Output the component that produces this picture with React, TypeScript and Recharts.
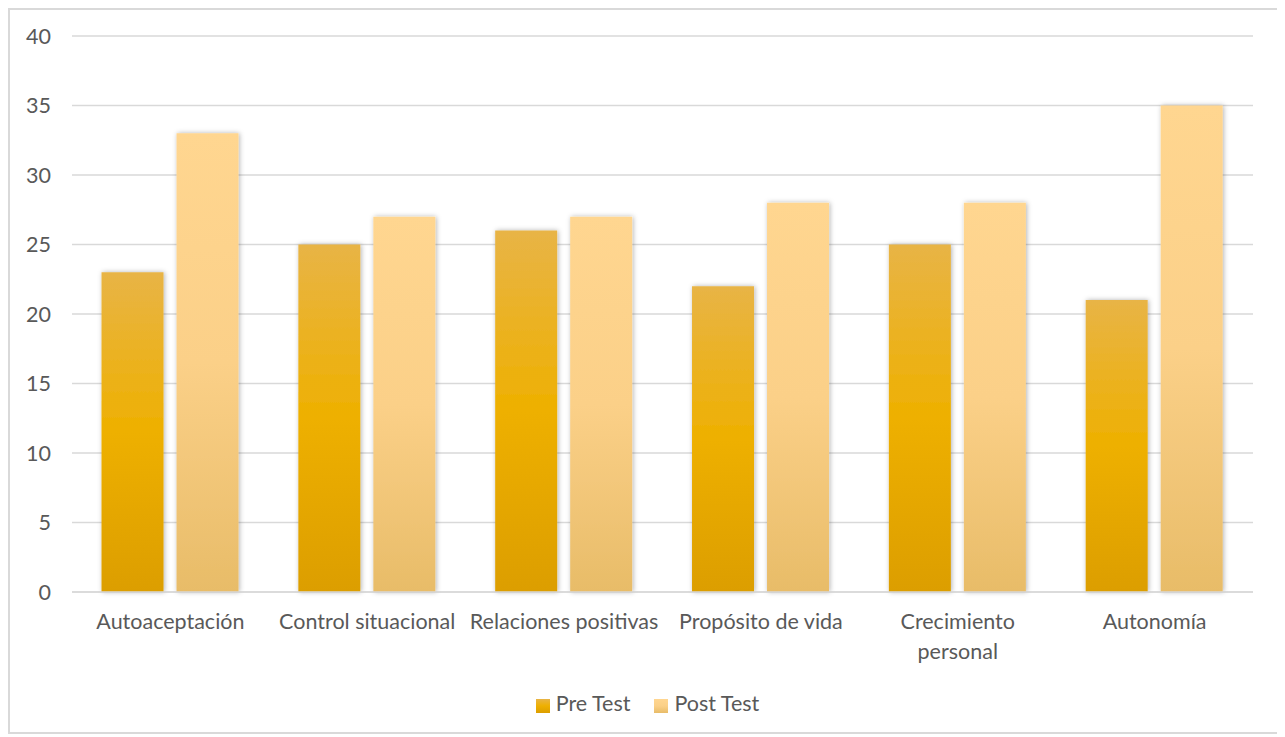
import React from "react";
import { BarChart, Bar, XAxis, YAxis, CartesianGrid, Legend } from "recharts";

const categories = [
  "Autoaceptación",
  "Control situacional",
  "Relaciones positivas",
  "Propósito de vida",
  "Crecimiento personal",
  "Autonomía",
];
const categoryLines: string[][] = [
  ["Autoaceptación"],
  ["Control situacional"],
  ["Relaciones positivas"],
  ["Propósito de vida"],
  ["Crecimiento", "personal"],
  ["Autonomía"],
];
const preTest = [23, 25, 26, 22, 25, 21];
const postTest = [33, 27, 27, 28, 28, 35];
const yTicks = [0, 5, 10, 15, 20, 25, 30, 35, 40];
const seriesOrder = ["Pre Test", "Post Test"];

const data = categories.map((c, i) => ({
  name: c,
  pre: preTest[i],
  post: postTest[i],
}));

const FONT = "Lato, 'Open Sans', sans-serif";
const TXT = "#595959";
const FS = 21.5;

const XTick = (props: any) => {
  const { x, y, payload } = props;
  const idx = categories.indexOf(payload.value);
  const lines = idx >= 0 ? categoryLines[idx] : [payload.value];
  return (
    <g transform={`translate(${x},${y})`}>
      {lines.map((l, i) => (
        <text
          key={i}
          x={0}
          y={i * 30}
          dy="0.71em"
          textAnchor="middle"
          fill={TXT}
          fontSize={FS}
          fontFamily={FONT}
        >
          {l}
        </text>
      ))}
    </g>
  );
};

export default function App() {
  return (
    <div
      style={{
        width: 1267,
        height: 722,
        border: "2px solid #d9d9d9",
        background: "#fff",
      }}
    >
      <BarChart
        width={1267}
        height={722}
        data={data}
        margin={{ top: 26, right: 24, left: 0, bottom: 16 }}
        barCategoryGap="15%"
        barGap={13}
      >
        <defs>
          <linearGradient id="gPre" x1="0" y1="0" x2="0" y2="1">
            <stop offset="0%" stopColor="#E8B446" />
            <stop offset="50%" stopColor="#EEB000" />
            <stop offset="100%" stopColor="#DC9E00" />
          </linearGradient>
          <linearGradient id="gPost" x1="0" y1="0" x2="0" y2="1">
            <stop offset="0%" stopColor="#FFD690" />
            <stop offset="50%" stopColor="#FBD088" />
            <stop offset="100%" stopColor="#E8BC68" />
          </linearGradient>
          <filter id="shadow" x="-20%" y="-10%" width="140%" height="120%">
            <feDropShadow dx="1" dy="0" stdDeviation="2.5" floodColor="#000" floodOpacity="0.3" />
          </filter>
        </defs>
        <CartesianGrid vertical={false} stroke="#d9d9d9" strokeWidth={1.5} />
        <XAxis
          dataKey="name"
          axisLine={{ stroke: "#d9d9d9", strokeWidth: 1.5 }}
          tickLine={false}
          interval={0}
          height={98}
          tick={<XTick />}
          tickMargin={16}
        />
        <YAxis
          domain={[0, 40]}
          ticks={yTicks}
          axisLine={false}
          tickLine={false}
          width={62}
          tickMargin={15}
          tick={{ fill: TXT, fontSize: FS, fontFamily: FONT }}
        />
        <Legend
          verticalAlign="bottom"
          iconType="square"
          iconSize={14}
          itemSorter={(item: any) => seriesOrder.indexOf(item.value)}
          wrapperStyle={{ fontFamily: FONT, fontSize: FS, paddingLeft: 21 }}
          formatter={(v: string) => (
            <span
              style={{
                color: TXT,
                marginLeft: 2,
                marginRight: v === seriesOrder[0] ? 14 : 0,
              }}
            >
              {v}
            </span>
          )}
        />
        <Bar
          dataKey="pre"
          name="Pre Test"
          fill="url(#gPre)"
          filter="url(#shadow)"
          isAnimationActive={false}
          legendType="square"
        />
        <Bar
          dataKey="post"
          name="Post Test"
          fill="url(#gPost)"
          filter="url(#shadow)"
          isAnimationActive={false}
          legendType="square"
        />
      </BarChart>
    </div>
  );
}
